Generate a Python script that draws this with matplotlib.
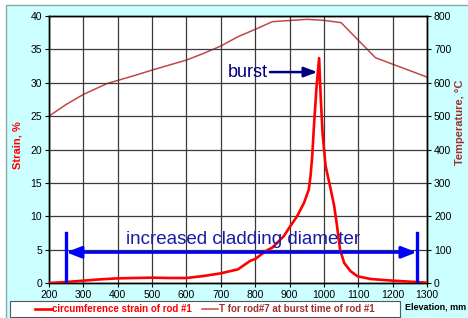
import numpy as np
import matplotlib
matplotlib.use('Agg')
import matplotlib.pyplot as plt
from matplotlib.patches import Rectangle

plt.rcParams['font.family'] = ['Liberation Sans', 'DejaVu Sans']

# Strain of rod #1 (elevation mm, strain %)
strain_elev = [200, 250, 300, 350, 400, 450, 500, 550, 600, 650, 700, 750, 785, 800, 834,
               850, 883, 902, 922, 942, 956, 961, 966, 971, 978, 986, 991, 996, 1005,
               1020, 1030, 1037, 1047, 1059, 1078, 1098, 1136, 1200, 1250, 1300]
strain_val = [0.0, 0.15, 0.35, 0.55, 0.7, 0.75, 0.8, 0.75, 0.75, 1.05, 1.45, 2.05, 3.3, 3.6, 4.9,
              5.3, 7.0, 8.5, 10.0, 12.0, 14.0, 16.0, 19.0, 23.5, 29.0, 33.7, 27.5, 22.5, 17.5,
              14.0, 11.5, 9.0, 5.0, 3.0, 1.75, 1.0, 0.6, 0.35, 0.2, 0.05]

# Temperature of rod #7 at burst time of rod #1 (elevation mm, deg C)
temp_elev = [200, 250, 300, 370, 450, 500, 600, 650, 700, 750, 800, 850, 950, 1000, 1050, 1150, 1300]
temp_val = [500, 535, 565, 598, 622, 638, 668, 688, 710, 738, 760, 783, 790, 787, 780, 675, 617]

fig = plt.figure(figsize=(4.68, 3.18), dpi=100)
fig.patch.set_facecolor('white')
fig.patches.append(Rectangle((6/468, -0.05), 1.0, 1 - 5/318 + 0.05, transform=fig.transFigure,
                             facecolor='#CCFFFF', edgecolor='#8AA8A8', lw=1.0, zorder=-10))

ax = fig.add_axes([49/468, 1 - 283/318, (427 - 49)/468, (283 - 16)/318])
ax2 = ax.twinx()

ax.set_xlim(200, 1300)
ax.set_ylim(0, 40)
ax.set_xticks(np.arange(200, 1301, 100))
ax.set_yticks(np.arange(0, 41, 5))
ax2.set_ylim(0, 800)
ax2.set_yticks(np.arange(0, 801, 100))

for a in (ax, ax2):
    a.tick_params(labelsize=7.5, length=3, width=0.8, pad=2)
    for s in a.spines.values():
        s.set_color('black')
        s.set_linewidth(1.0)

l1, = ax.plot(strain_elev, strain_val, color='#FF0000', lw=1.9, zorder=5,
              label='circumference strain of rod #1')
l2, = ax2.plot(temp_elev, temp_val, color='#C04848', lw=1.1,
               label='T for rod#7 at burst time of rod #1')
ax.patch.set_visible(False)
ax2.patch.set_visible(True)
ax2.patch.set_facecolor('white')
ax2.set_zorder(0)
ax.set_zorder(1)
ax.grid(True, color='#3a3a3a', lw=0.9)
ax.set_axisbelow(True)

# increased cladding diameter markers
x_left, x_right = 250, 1270
ax.plot([x_left, x_left], [0, 7.5], color='#0000FF', lw=2.4, zorder=6)
ax.plot([x_right, x_right], [0, 7.5], color='#0000FF', lw=2.4, zorder=6)
ax.annotate('', xy=(x_left, 4.6), xytext=(x_right, 4.6),
            arrowprops=dict(arrowstyle='<|-|>, head_length=0.9, head_width=0.35',
                            color='#0000FF', lw=2.2, shrinkA=0, shrinkB=0), zorder=6)
ax.text(765, 6.5, 'increased cladding diameter', color='#1A1AA6', fontsize=13.5,
        ha='center', va='center', zorder=7)

# burst annotation
ax.annotate('', xy=(981, 31.6), xytext=(843, 31.6),
            arrowprops=dict(arrowstyle='-|>, head_length=0.8, head_width=0.3',
                            color='#000080', lw=1.8, shrinkA=0, shrinkB=0), zorder=7)
ax.text(836, 31.6, 'burst', color='#000080', fontsize=13, ha='right', va='center', zorder=7)

fig.text(18/468, 1 - 145/318, 'Strain, %', color='#FF0000', fontsize=8, fontweight='bold',
         rotation=90, ha='center', va='center')
fig.text(460/468, 1 - 122/318, 'Temperature, \u00b0C', color='#A03030', fontsize=8,
         fontweight='bold', rotation=90, ha='center', va='center')
fig.text(405/468, 1 - 307/318, 'Elevation, mm', color='black', fontsize=6.5,
         fontweight='bold', ha='left', va='center')

# legend box
fig.patches.append(Rectangle((10/468, 1/318), 390/468, 16/318, transform=fig.transFigure,
                             facecolor='white', edgecolor='#555555', lw=0.8, zorder=1))
leg = fig.legend(handles=[l1, l2], loc='center', ncol=2,
                 bbox_to_anchor=(205/468, 9/318), fontsize=7,
                 frameon=False, handlelength=1.7, handletextpad=0.05,
                 borderpad=0.0, columnspacing=1.0,
                 labelcolor=['#FF0000', '#A03030'])
for t in leg.get_texts():
    t.set_fontweight('bold')

fig.savefig('out.png', dpi=100, facecolor=fig.get_facecolor())
